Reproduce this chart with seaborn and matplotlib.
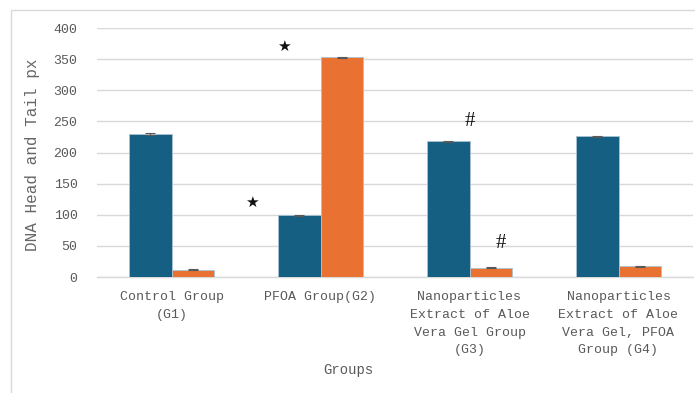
import matplotlib
matplotlib.use("Agg")
import matplotlib.pyplot as plt
from matplotlib.patches import Rectangle
import seaborn as sns
import pandas as pd
import numpy as np

# Group labels (as printed under the axis)
groups = [
    "Control Group\n(G1)",
    "PFOA Group(G2)",
    "Nanoparticles\nExtract of Aloe\nVera Gel Group\n(G3)",
    "Nanoparticles\nExtract of Aloe\nVera Gel, PFOA\nGroup (G4)",
]
series = ["DNA Head", "DNA Tail"]
head_px = [230, 99, 218, 226]
tail_px = [12, 353, 15, 17]
head_err = [1.2, 1.0, 1.0, 0.6]
tail_err = [0.8, 1.0, 1.2, 1.0]
yticks = [0, 50, 100, 150, 200, 250, 300, 350, 400]

# Significance marks: (symbol, x position in category units, y value)
marks = [
    ("★", 0.54, 120),
    ("★", 0.755, 370),
    ("#", 2.0, 249),
    ("#", 2.21, 54),
]

df = pd.DataFrame({
    "Group": groups * 2,
    "Series": [series[0]] * 4 + [series[1]] * 4,
    "Value": head_px + tail_px,
    "Err": head_err + tail_err,
})

sns.set_style("white")
plt.rcParams["font.family"] = ["Liberation Mono", "DejaVu Sans"]

fig = plt.figure(figsize=(6.95, 3.93), dpi=100)
ax = fig.add_axes([97 / 695, 1 - 277 / 393, 596 / 695, 249 / 393])

palette = {"DNA Head": "#156082", "DNA Tail": "#E97132"}
sns.barplot(data=df, x="Group", y="Value", hue="Series", order=groups,
            hue_order=series, palette=palette, width=0.57, gap=0,
            errorbar=None, legend=False, saturation=1, ax=ax,
            edgecolor="#a9c3d3", linewidth=0.6, zorder=3)

# Error caps, placed on the bars seaborn drew
for container, s in zip(ax.containers, series):
    sub = df[df["Series"] == s].set_index("Group").loc[groups]
    xs = [b.get_x() + b.get_width() / 2 for b in container]
    ax.errorbar(xs, sub["Value"].values, yerr=sub["Err"].values, fmt="none",
                ecolor="#595959", elinewidth=0.8, capsize=3.5, capthick=0.8,
                zorder=4)

for sym, x, y in marks:
    if sym == "#":
        ax.text(x, y, sym, ha="center", va="center", fontsize=15,
                family=["Liberation Serif", "DejaVu Serif"], color="#111111", zorder=5)
    else:
        ax.text(x, y, sym, ha="center", va="center", fontsize=11,
                family=["DejaVu Sans"], color="#111111", zorder=5)

ax.set_ylim(0, 400)
ax.set_xlim(-0.5, 3.5)
ax.set_yticks(yticks)
ax.yaxis.grid(True, color="#D9D9D9", linewidth=1.0, zorder=0)
ax.set_axisbelow(True)
for sp in ["top", "right", "left"]:
    ax.spines[sp].set_visible(False)
ax.spines["bottom"].set_color("#D9D9D9")
ax.spines["bottom"].set_linewidth(1.0)

ax.tick_params(axis="both", length=0, labelsize=9.5, colors="#595959")
ax.tick_params(axis="y", pad=14)
ax.tick_params(axis="x", pad=10)
for lbl in ax.get_xticklabels():
    lbl.set_linespacing(1.65)

ax.set_xlabel("Groups", fontsize=10, color="#595959")
ax.xaxis.set_label_coords((348 - 97) / 596, -(363 - 277) / 249)
ax.set_ylabel("DNA Head and Tail px", fontsize=11.5, color="#666666")
ax.yaxis.set_label_coords(-(97 - 40) / 596, 0.49)

# Light chart-area border
fig.patches.append(Rectangle((11 / 695, -0.1), 1.2, 1 - 10 / 393 + 0.1,
                             transform=fig.transFigure, fill=False,
                             edgecolor="#D9D9D9", linewidth=1.0))

fig.savefig("out.png", dpi=100)
